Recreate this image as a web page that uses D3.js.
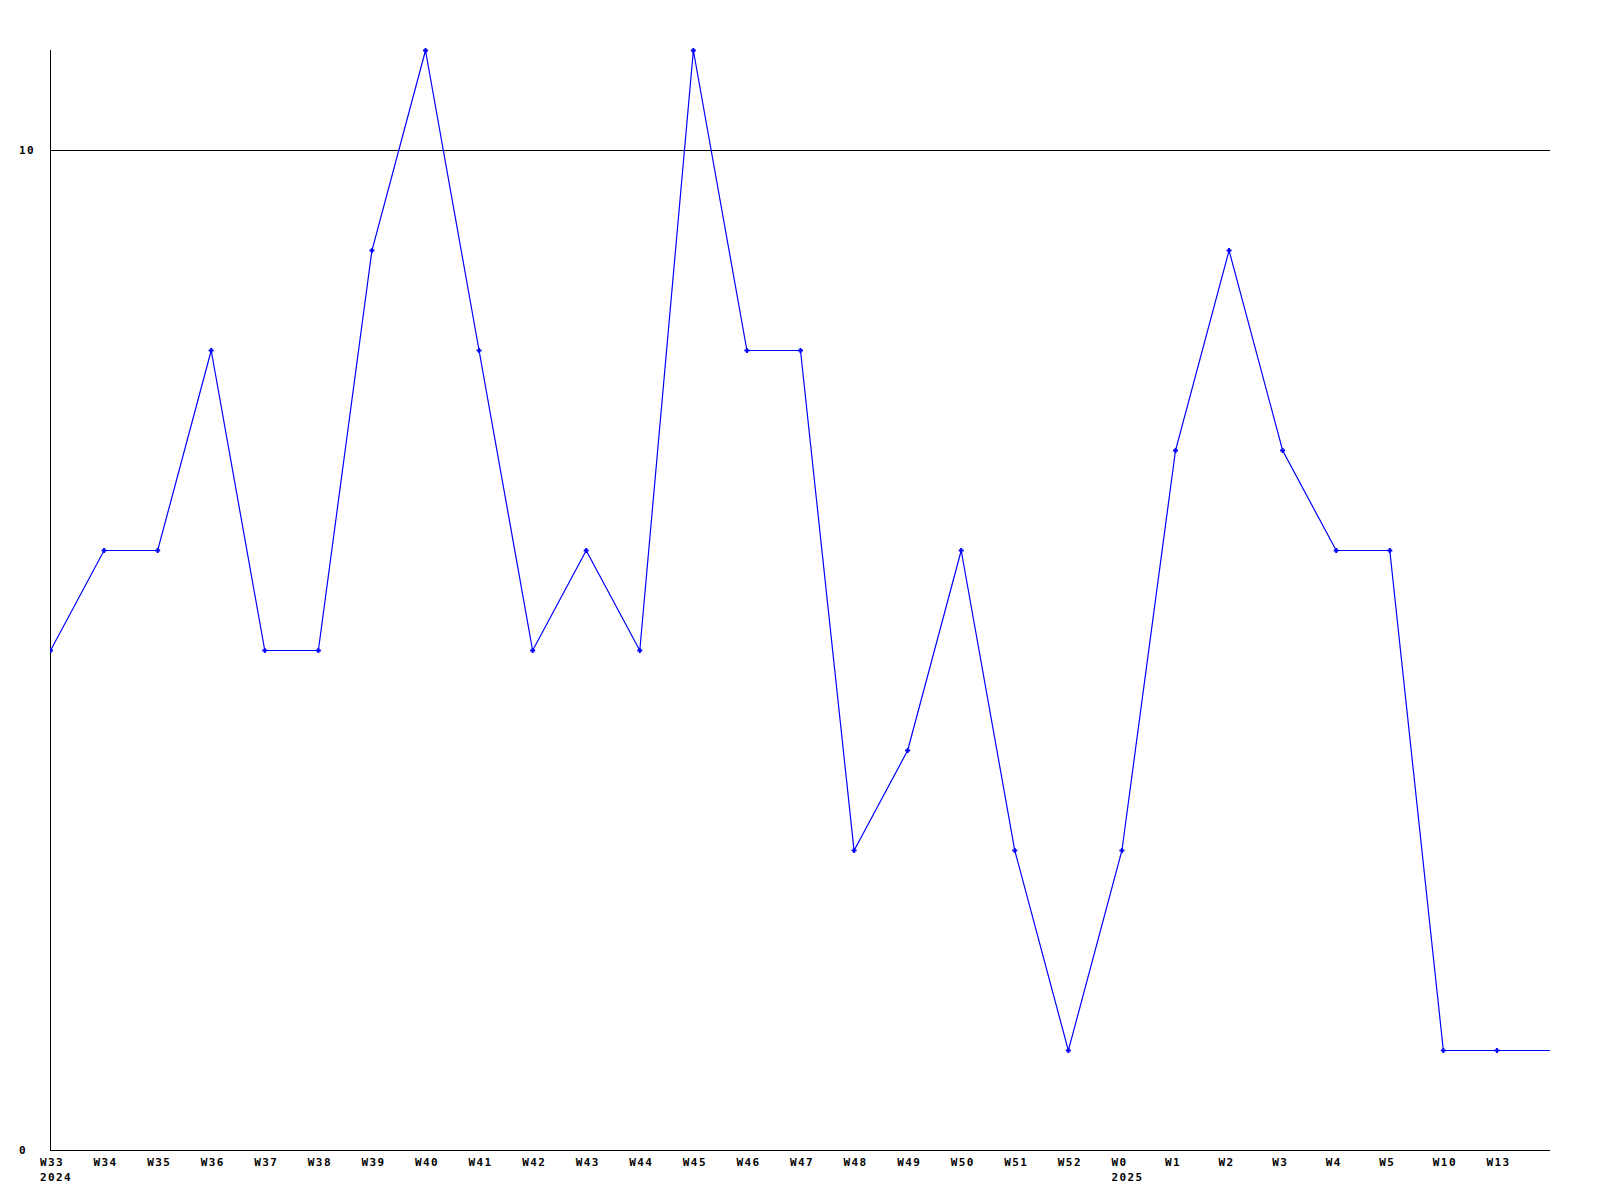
<!DOCTYPE html>
<html><head><meta charset="utf-8">
<script src="https://cdn.jsdelivr.net/npm/d3@7"></script>
<style>body{margin:0;background:#fff}svg{display:block}text{font-family:"DejaVu Sans Mono",monospace;font-weight:bold;font-size:11px;letter-spacing:1.4px;fill:#000}</style>
</head><body>
<script>
const weekLabels = ["W33","W34","W35","W36","W37","W38","W39","W40","W41","W42","W43","W44","W45","W46","W47","W48","W49","W50","W51","W52","W0","W1","W2","W3","W4","W5","W10","W13"];
const yearLabels = {0:"2024", 20:"2025"};
const values = [5,6,6,8,5,5,9,11,8,5,6,5,11,8,8,3,4,6,3,1,3,7,9,7,6,6,1,1,1];
const yTicks = [0,10];

const W = 1600, H = 1200;
const svg = d3.select("body").append("svg").attr("width", W).attr("height", H);
const x = d3.scaleLinear().domain([0, values.length - 1]).range([50, 1550]);
const y = d3.scaleLinear().domain([0, 11]).range([1150, 50]);

svg.append("clipPath").attr("id","clip").append("rect").attr("x",50).attr("y",40).attr("width",1500).attr("height",1115);

// gridline at 10
svg.selectAll("line.grid").data(yTicks.filter(d => d > 0)).enter().append("line")
  .attr("x1", 50).attr("x2", 1550).attr("y1", d => y(d) + 0.5).attr("y2", d => y(d) + 0.5)
  .attr("stroke", "#000").attr("stroke-width", 1);
// axes
svg.append("line").attr("x1", 50.5).attr("x2", 50.5).attr("y1", y(11)).attr("y2", y(0)).attr("stroke","#000");
svg.append("line").attr("x1", 50).attr("x2", 1550).attr("y1", y(0) + 0.5).attr("y2", y(0) + 0.5).attr("stroke","#000");

svg.selectAll("text.yt").data(yTicks).enter().append("text")
  .attr("x", 19).attr("y", d => y(d) + 4).text(d => d);

svg.selectAll("text.xt").data(weekLabels).enter().append("text")
  .attr("x", (d, i) => x(i) - 10).attr("y", 1166).text(d => d);
svg.selectAll("text.yr").data(Object.entries(yearLabels)).enter().append("text")
  .attr("x", d => x(+d[0]) - 10).attr("y", 1181).text(d => d[1]);

const g = svg.append("g").attr("clip-path","url(#clip)");
g.append("path").datum(values)
  .attr("d", d3.line().x((d, i) => x(i) + 0.5).y(d => y(d) + 0.5))
  .attr("fill","none").attr("stroke","#0000ff").attr("stroke-width",1.2);
const pts = values.slice(0, weekLabels.length);
g.selectAll("path.m").data(pts).enter().append("path")
  .attr("d", (d, i) => { const cx = x(i) + 0.5, cy = y(d) + 0.5; return `M${cx-2.5},${cy}H${cx+2.5}M${cx},${cy-2.5}V${cy+2.5}`; })
  .attr("stroke","#0000ff").attr("stroke-width",2);
</script>
</body></html>
